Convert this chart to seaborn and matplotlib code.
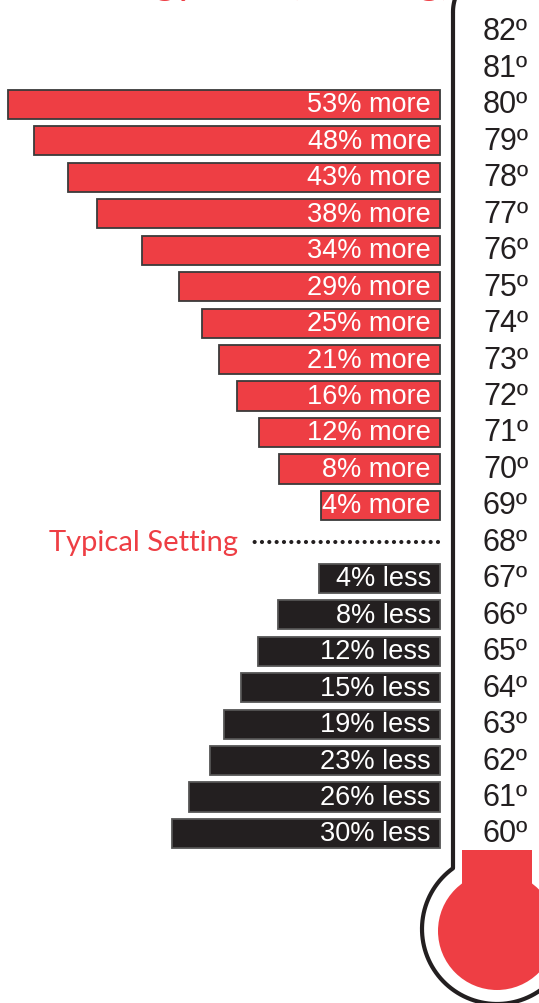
import numpy as np
import pandas as pd
import seaborn as sns
import matplotlib.pyplot as plt
from matplotlib.patches import Rectangle, Circle

# temperatures shown on the thermometer scale
temps = list(range(82, 59, -1))

# warmer settings (red bars) - label percent and drawn bar length
more_temps = [80, 79, 78, 77, 76, 75, 74, 73, 72, 71, 70, 69]
more_pct = [53, 48, 43, 38, 34, 29, 25, 21, 16, 12, 8, 4]
more_len = [432, 406, 372, 343, 298, 261, 238, 221, 203, 181, 161, 119]

# cooler settings (black bars)
less_temps = [67, 66, 65, 64, 63, 62, 61, 60]
less_pct = [4, 8, 12, 15, 19, 23, 26, 30]
less_len = [121, 162, 182, 199, 216, 230, 251, 268]

typical_temp = 68
typical_label = "Typical Setting"
title = "Energy Use (Cooling)"

RED = "#EE3E44"
BLACK = "#231F20"
SANS = ["Liberation Sans", "DejaVu Sans"]

sns.set_theme(style="white")
plt.rcParams['font.family'] = SANS

more_df = pd.DataFrame({"temp": more_temps, "len": more_len, "pct": more_pct})
less_df = pd.DataFrame({"temp": less_temps, "len": less_len, "pct": less_pct})

fig = plt.figure(figsize=(5.39, 10.04), dpi=100)
ax = fig.add_axes([0, 0, 1, 1])

sns.barplot(data=more_df, x="len", y="temp", orient="h", native_scale=True,
            color=RED, saturation=1, width=0.8, edgecolor="#3a3a3a",
            linewidth=1.3, ax=ax)
sns.barplot(data=less_df, x="len", y="temp", orient="h", native_scale=True,
            color=BLACK, saturation=1, width=0.8, edgecolor="#555555",
            linewidth=1.3, ax=ax)

ax.set_xlim(440, -99)
ax.set_ylim(55.35, 82.89)
ax.axis("off")

for t, p in zip(more_temps, more_pct):
    ax.text(9, t, f"{p}% more", ha="right", va="center", color="white",
            fontsize=19.5, family=SANS)
for t, p in zip(less_temps, less_pct):
    ax.text(9, t, f"{p}% less", ha="right", va="center", color="white",
            fontsize=19.5, family=SANS)

for t in temps:
    ax.text(-43, t, f"{t}º", ha="left", va="center", color=BLACK,
            fontsize=22, family=SANS)

# typical setting marker
ax.text(202, typical_temp, typical_label, ha="right", va="center", color=RED,
        fontsize=21, family=["Lato", "DejaVu Sans"])
ax.plot([2, 192], [typical_temp, typical_temp], color=BLACK, lw=3,
        linestyle=(0, (0.01, 1.75)), dash_capstyle="round")

# thermometer outline drawn on a pixel overlay
ov = fig.add_axes([0, 0, 1, 1], facecolor="none")
ov.set_xlim(0, 539)
ov.set_ylim(1004, 0)
ov.axis("off")

ov.add_patch(Rectangle((462, 851), 70, 90, facecolor=RED, edgecolor="none"))
ov.add_patch(Circle((497, 932), 59, facecolor=RED, edgecolor="none"))

a = np.radians(np.linspace(180, 120, 30))
ov.plot(497 + 44 * np.cos(a), 13 - 44 * np.sin(a), color=BLACK, lw=3)
ov.plot([453, 453], [13, 869], color=BLACK, lw=3, solid_capstyle="butt")
b = np.radians(np.linspace(234.1, -45, 200))
ov.plot(497 + 75 * np.cos(b), 930 + 75 * np.sin(b), color=BLACK, lw=3)

ov.text(70, -6, title, color=RED, fontsize=30, va="baseline",
        family=["Lato", "DejaVu Sans"])

fig.savefig("out.png", dpi=100)
